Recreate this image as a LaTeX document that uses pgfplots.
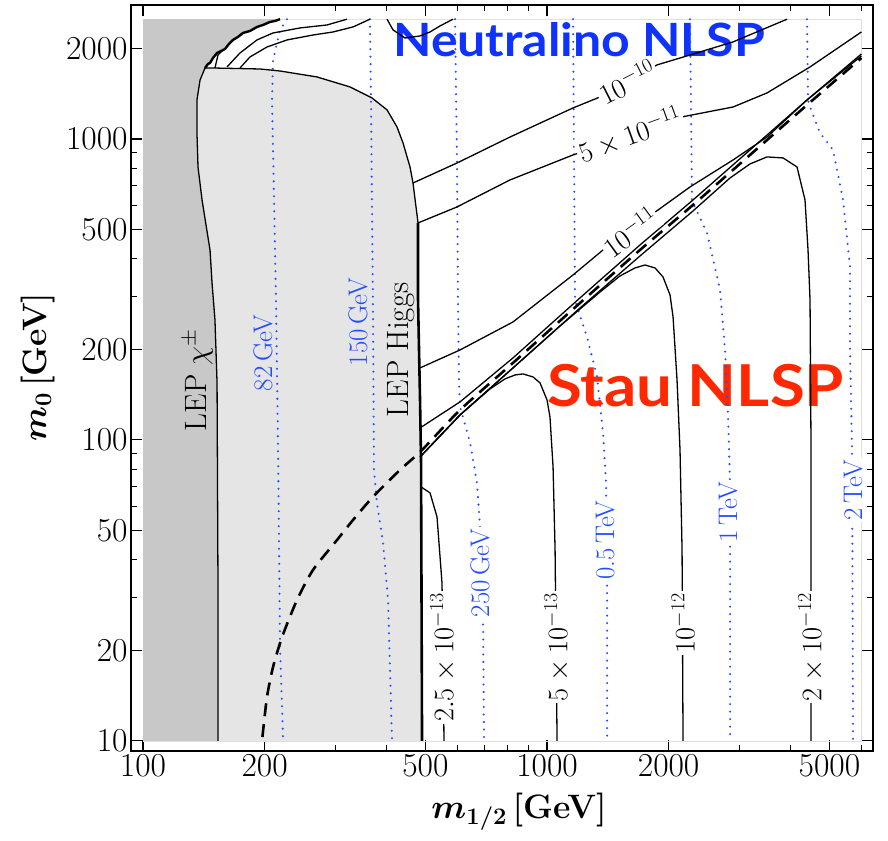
\RequirePackage{fix-cm}
\documentclass[border=0pt]{standalone}
\usepackage{fontspec}
\usepackage{bm}
\usepackage{pgfplots}
\pgfplotsset{compat=1.18}
\newfontfamily\gill{Lato}

\definecolor{dkgray}{RGB}{200,200,200}
\definecolor{ltgray}{RGB}{229,229,229}
\definecolor{nblue}{RGB}{15,50,255}
\definecolor{dotblue}{RGB}{35,75,255}
\definecolor{staured}{RGB}{255,40,0}

\tikzset{
  cont/.style={black, line width=1.3bp, line join=round},
  bdot/.style={dotblue, line width=2.3bp, line cap=round, dash pattern=on 0bp off 7.5bp},
  clab/.style={fill=white, inner sep=2bp, font=\fontsize{28.5}{32}\selectfont},
  blab/.style={text=dotblue, inner sep=2bp, font=\fontsize{27}{30}\selectfont, rotate=90},
}

\begin{document}
\begin{tikzpicture}
\begin{axis}[
  xmode=log, ymode=log,
  scale only axis, width=742bp, height=746bp,
  xmin=93.4, xmax=6411, ymin=9.26, ymax=2787,
  clip=false,
  axis line style={line width=1.2bp},
  tick align=inside,
  major tick length=11bp, minor tick length=6bp,
  every tick/.style={black, line width=1.1bp},
  xtick={100,200,500,1000,2000,5000},
  xticklabels={100,200,500,1000,2000,5000},
  minor xtick={300,400,600,700,800,900,3000,4000,6000},
  ytick={10,20,50,100,200,500,1000,2000},
  yticklabels={10,20,50,100,200,500,1000,2000},
  minor ytick={30,40,60,70,80,90,300,400,600,700,800,900},
  tick label style={font=\fontsize{33.6}{38}\selectfont},
  xlabel={$\bm{m_{1/2}}$\,\textbf{[GeV]}},
  ylabel={$\bm{m_0}$\,\textbf{[GeV]}},
  label style={font=\fontsize{34}{40}\selectfont},
  xlabel style={at={(axis description cs:0.523,-0.082)}, anchor=center},
  ylabel style={at={(axis description cs:-0.126,0.515)}, anchor=center},
]
% page size
\path (axis description cs:-0.1766,-0.1206) rectangle (axis description cs:1.0202,1.0067);

% plot region border
\addplot[black!12, line width=0.8bp] coordinates {(100,10) (6000,10) (6000,2500) (100,2500) (100,10)};

% excluded by LEP chargino search (dark)
\addplot[fill=dkgray, draw=none] coordinates {
  (100,10) (153.3,10) (153.3,33.5) (152.5,154.7) (150.7,250.4) (148.2,332.3)
  (146.5,427.8) (143.2,518) (140,627) (136.8,807) (136,1047) (136,1348)
  (138.4,1570) (142.4,1721) (144.8,1775) (146.5,1789) (149,1858) (152.5,1931)
  (156,1960) (159.6,1991) (163.2,2069) (167,2133) (171.8,2183) (176.8,2250)
  (184,2285) (191.5,2356) (198.2,2392) (206.2,2448) (212.1,2466) (218.4,2500)
  (100,2500)};

% excluded by LEP Higgs search (light)
\addplot[fill=ltgray, draw=none] coordinates {
  (153.3,10) (153.3,33.5) (152.5,154.7) (150.7,250.4) (148.2,332.3)
  (146.5,427.8) (143.2,518) (140,627) (136.8,807) (136,1047) (136,1348)
  (138.4,1570) (142.4,1721) (149,1721) (194.8,1708) (218.4,1682) (269.6,1607)
  (325.3,1489) (368.7,1369) (401.8,1249) (425.3,1096) (440.1,970) (458,807)
  (465.9,714) (479.4,526) (479.4,292) (484.9,135.8) (487.7,85.8) (490.5,10)};

% region names (under the curves)
\node[anchor=base west, inner sep=0, xscale=1.09, text=nblue, font=\gill\bfseries\fontsize{46}{50}\selectfont]
  at (axis cs:415.8,1873) {Neutralino NLSP};
\node[anchor=base west, inner sep=0, xscale=1.1, text=staured, font=\gill\bfseries\fontsize{58}{62}\selectfont]
  at (axis cs:1000,128.7) {Stau NLSP};

% neutralino mass contours
\addplot[bdot] coordinates {(227.2,2500) (218.4,2302) (209.8,1830) (208.6,1348)
  (211,627) (213.4,292) (215.9,92.6) (218.4,20.1) (222.2,10)};
\addplot[bdot] coordinates {(364.6,2500) (366.7,1348) (368.7,627) (370.8,292)
  (373,79.5) (379.4,61.8) (392.8,45.5) (404.1,29.4) (413.4,10)};
\addplot[bdot] coordinates {(592,2500) (598.7,832) (602.1,292) (605.6,154.7)
  (609.2,128.7) (645.3,97.7) (671,72) (682.6,51.4) (694.4,25.8) (698.4,10)};
\addplot[bdot] coordinates {(1160,2500) (1173,292) (1187,276.7) (1256,219.9)
  (1330,161.9) (1376,105.5) (1400,72) (1408,33.5) (1408,10)};
\addplot[bdot] coordinates {(2259,2500) (2285,627) (2298,613) (2489,487.3)
  (2681,315) (2758,199.1) (2806,119.2) (2838,72) (2838,10)};
\addplot[bdot] coordinates {(4401,2500) (4426,1348) (4477,1277) (4739,1047)
  (5105,919.4) (5404,627) (5623,375.7) (5623,199.1) (5689,92.6) (5721,10)};

% lifetime contours, neutralino side
\addplot[cont] coordinates {(465.9,714) (598.7,832) (809.9,1015) (1160,1268)
  (1353,1379) (1587,1558) (1872,1762) (2259,1901) (2887,2101) (3928,2500)};
\addplot[cont] coordinates {(479.4,526) (598.7,594.5) (809.9,731) (1160,885)
  (1221,905) (1605,1031) (2159,1184) (2887,1277) (3504,1422) (4477,1735) (6000,2267)};
\addplot[cont] coordinates {(484.9,173.5) (609.2,199.1) (823.7,246.6) (1160,353.4)
  (1376,427.8) (1605,498.6) (1883,580.9) (2259,692.7) (2887,851.6) (3504,1015)
  (4401,1348) (6000,1887)};
\addplot[cont] coordinates {(484.9,109.6) (543.4,121.1) (609.2,133.8) (823.7,187.3)
  (1207,296.5) (1699,444.5) (2298,627.1) (3180,919.4) (4401,1348) (6000,1916)};

% contours near the top edge
\addplot[cont] coordinates {(161.4,1735) (173.8,1931) (191.5,2133) (209.8,2250)
  (244.7,2338) (285.5,2392) (319.8,2500)};
\addplot[cont] coordinates {(173.8,1721) (184,1873) (202.7,2021) (227.2,2133)
  (263.5,2215) (295.3,2267) (331,2356) (364.6,2500)};
\addplot[cont] coordinates {(150.7,1721) (153.3,1901) (157.8,1975)};
\addplot[cont] coordinates {(401.8,2500) (415.8,2302) (445.1,2165) (484.9,2199)
  (513.3,2267) (543.4,2374) (585.2,2500)};

% lifetime contours, stau side
\addplot[cont] coordinates {(487.7,69.8) (513.3,66.7) (534.2,55.5) (549.6,33.5)
  (552.8,20.1) (555.9,10)};
\addplot[cont] coordinates {(484.9,87.8) (609.2,121.1) (722.5,147.7) (787,159.5)
  (833.2,164.4) (872.3,165.7) (923.4,161.9) (960.9,154.7) (1000,135.8)
  (1017,119.2) (1035,81.3) (1047,43.1) (1053,20.1) (1059,10)};
\addplot[cont] coordinates {(484.9,87.8) (609.2,121.1) (823.7,173.5) (1077,239.1)
  (1353,310.1) (1516,350.7) (1651,372.8) (1748,381.4) (1851,372.8) (1937,348)
  (2016,303.1) (2051,256.2) (2098,158.2) (2134,92.6) (2159,43.1) (2171,10)};
\addplot[cont] coordinates {(484.9,87.8) (609.2,121.1) (823.7,173.5) (1207,274.5)
  (1699,408.6) (2298,576.5) (2838,742.2) (3180,826) (3504,871.6) (3839,864.9)
  (4157,807.2) (4351,627.1) (4426,427.8) (4477,291.9) (4503,92.6) (4503,10)};

% stau = neutralino boundary
\addplot[black, line width=2.6bp, dash pattern=on 13bp off 8bp, smooth, tension=0.4] coordinates {
  (197.5,10.3) (202.7,14) (209.8,17.6) (220.9,22.15) (240.5,29.4) (263.5,37)
  (302.1,46.5) (331,54.2) (370.8,64.7) (432.6,79.5) (490.5,92.6) (609.2,125.8)
  (823.7,180.3) (1207,285.2) (1699,427.8) (2298,603.7) (3180,884.9) (4401,1297)
  (6000,1858)};

% LEP boundaries
\addplot[cont] coordinates {(153.3,10) (153.3,33.5) (152.5,154.7) (150.7,250.4)
  (148.2,332.3) (146.5,427.8) (143.2,518) (140,627) (136.8,807) (136,1047)
  (136,1348) (138.4,1570) (142.4,1721)};
\addplot[black, line width=2.4bp, line join=round] coordinates {(142.4,1721)
  (144.8,1775) (146.5,1789) (149,1858) (152.5,1931) (156,1960) (159.6,1991)
  (163.2,2069) (167,2133) (171.8,2183) (176.8,2250) (184,2285) (191.5,2356)
  (198.2,2392) (206.2,2448) (212.1,2466) (218.4,2500)};
\addplot[cont] coordinates {(142.4,1721) (149,1721) (194.8,1708) (218.4,1682)
  (269.6,1607) (325.3,1489) (368.7,1369) (401.8,1249) (425.3,1096) (440.1,970)
  (458,807) (465.9,714) (479.4,526)};
\addplot[black, line width=2.6bp, line join=round] coordinates {(479.4,526)
  (479.4,292) (484.9,135.8) (487.7,85.8) (490.5,10)};

% contour labels
\node[clab, rotate=27] at (axis cs:1578,1546) {$10^{-10}$};
\node[clab, rotate=20] at (axis cs:1605,1031) {$5\times10^{-11}$};
\node[clab, rotate=36] at (axis cs:1605,490.9) {$10^{-11}$};
\node[clab, rotate=90, anchor=east] at (axis cs:552.8,31.5) {$2.5\times10^{-13}$};
\node[clab, rotate=90, anchor=east] at (axis cs:1059,31.5) {$5\times10^{-13}$};
\node[clab, rotate=90, anchor=east] at (axis cs:2171,31.5) {$10^{-12}$};
\node[clab, rotate=90, anchor=east] at (axis cs:4503,31.5) {$2\times10^{-12}$};

\node[blab] at (axis cs:198.2,194.5) {82\,GeV};
\node[blab] at (axis cs:340.5,246.6) {150\,GeV};
\node[blab, fill=white] at (axis cs:682.6,36.15) {250\,GeV};
\node[blab, fill=white] at (axis cs:1392,46.5) {0.5\,TeV};
\node[blab, fill=white] at (axis cs:2806,57.65) {1\,TeV};
\node[blab, fill=white] at (axis cs:5721,68.2) {2\,TeV};

\node[rotate=90, font=\fontsize{31}{34}\selectfont] at (axis cs:136.8,158.2) {LEP $\chi^{\pm}$};
\node[rotate=90, font=\fontsize{31}{34}\selectfont] at (axis cs:435.1,199.1) {LEP Higgs};
\end{axis}
\end{tikzpicture}
\end{document}
